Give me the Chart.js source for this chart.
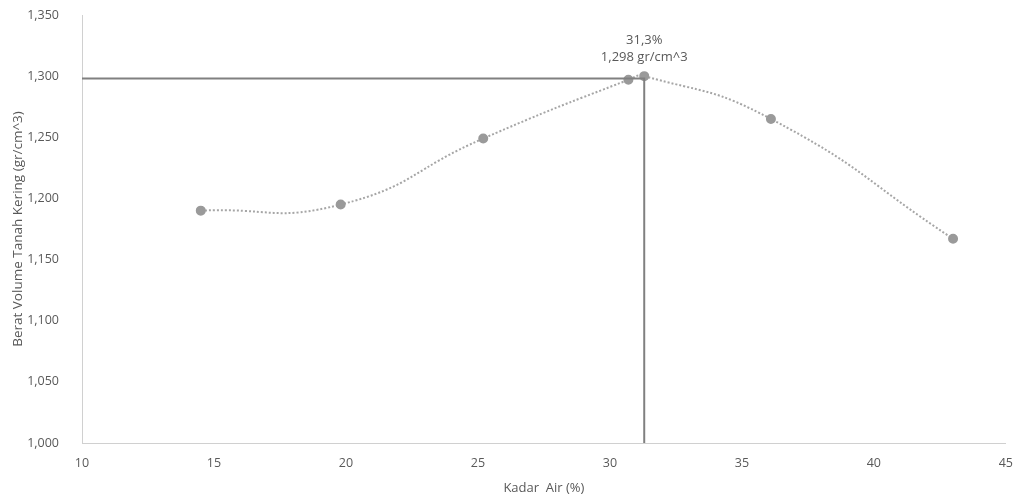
<!DOCTYPE html>
<html lang="id">
<head>
  <meta charset="UTF-8" />
  <title>Kadar Air vs Berat Volume Tanah Kering</title>
  <script src="https://cdn.jsdelivr.net/npm/chart.js"></script>
  <style>
    html, body { margin: 0; padding: 0; background: #fff; }
    #wrap { width: 1018px; height: 498px; position: relative; }
  </style>
</head>
<body>
  <div id="wrap"><canvas id="chart"></canvas></div>
  <script>
    // data hasil uji pemadatan
    const kadarAir = [14.5, 19.8, 25.2, 30.7, 31.3, 36.1, 43.0];
    const beratVolume = [1.190, 1.195, 1.249, 1.297, 1.300, 1.265, 1.167];

    // garis bantu kadar air optimum
    const refX = [10, 31.3, 31.3];
    const refY = [1.298, 1.298, 1.000];
    const labelOpt = ['31,3%', '1,298 gr/cm^3'];

    const xTicks = { min: 10, max: 45, step: 5 };
    const yTicks = { min: 1.0, max: 1.35, step: 0.05 };

    const font = "'Open Sans', 'Liberation Sans', sans-serif";
    const textColor = '#595959';

    const kurva = kadarAir.map((x, i) => ({ x: x, y: beratVolume[i] }));
    const garis = refX.map((x, i) => ({ x: x, y: refY[i] }));

    const labelPlugin = {
      id: 'labelOpt',
      afterDatasetsDraw(chart) {
        const { ctx, scales } = chart;
        const px = scales.x.getPixelForValue(refX[1]);
        const py = scales.y.getPixelForValue(refY[0]);
        ctx.save();
        ctx.font = '13px ' + font;
        ctx.fillStyle = textColor;
        ctx.textAlign = 'center';
        ctx.textBaseline = 'middle';
        ctx.fillText(labelOpt[0], px, py - 38);
        ctx.fillText(labelOpt[1], px, py - 21);
        ctx.restore();
      }
    };

    new Chart(document.getElementById('chart'), {
      type: 'scatter',
      data: {
        datasets: [
          {
            data: garis,
            showLine: true,
            borderColor: '#808080',
            borderWidth: 2,
            pointRadius: 0,
            tension: 0
          },
          {
            data: kurva,
            showLine: true,
            borderColor: '#a6a6a6',
            borderWidth: 2,
            borderDash: [2, 2],
            tension: 0.5,
            pointRadius: 4,
            pointBackgroundColor: '#9a9a9a',
            pointBorderColor: '#9a9a9a'
          }
        ]
      },
      options: {
        responsive: true,
        maintainAspectRatio: false,
        animation: false,
        layout: { padding: { left: 0, right: 4, top: 0, bottom: 0 } },
        plugins: {
          legend: { display: false },
          tooltip: { enabled: false }
        },
        scales: {
          x: {
            type: 'linear',
            min: xTicks.min,
            max: xTicks.max,
            grid: { display: false },
            border: { display: true, color: '#d0d0d0', width: 1 },
            afterFit: s => { s.height = 55; },
            ticks: {
              stepSize: xTicks.step,
              padding: 5,
              color: textColor,
              font: { family: font, size: 12.5 }
            },
            title: {
              display: true,
              text: 'Kadar  Air (%)',
              color: textColor,
              font: { family: font, size: 13 },
              padding: { top: 0, bottom: 2 }
            }
          },
          y: {
            type: 'linear',
            min: yTicks.min,
            max: yTicks.max,
            grid: { display: false },
            border: { display: true, color: '#d0d0d0', width: 1 },
            afterFit: s => { s.width = 82; s.paddingTop = 15; },
            ticks: {
              stepSize: yTicks.step,
              padding: 15,
              color: textColor,
              font: { family: font, size: 12.5 },
              callback: v => v.toFixed(3).replace('.', ',')
            },
            title: {
              display: true,
              text: 'Berat Volume Tanah Kering (gr/cm^3)',
              color: textColor,
              font: { family: font, size: 13.5 },
              padding: { top: 10, bottom: 0 }
            }
          }
        }
      },
      plugins: [labelPlugin]
    });
  </script>
</body>
</html>
